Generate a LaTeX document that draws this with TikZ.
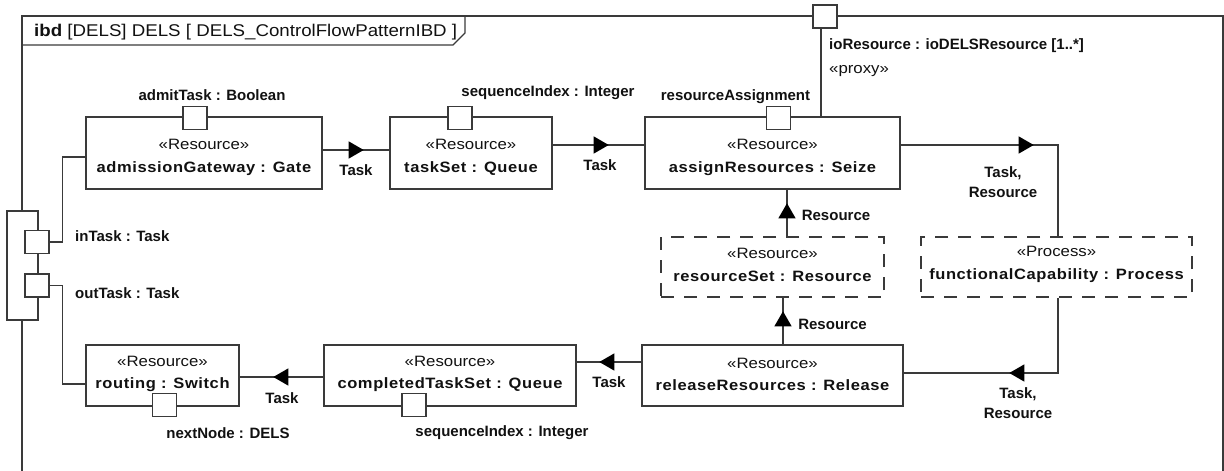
\documentclass[tikz,border=0pt]{standalone}
\usepackage{fontspec}
\setmainfont{Liberation Sans}
\newfontfamily\stfont[FakeStretch=1.12]{Liberation Sans}
\newfontfamily\nmfont[FakeStretch=1.1,LetterSpace=4]{Liberation Sans}
\newfontfamily\hdfont[FakeStretch=1.1]{Liberation Sans}
\usetikzlibrary{arrows.meta,decorations.markings,calc}
\definecolor{ln}{HTML}{3A3A3A}
\definecolor{tx}{HTML}{111111}
\tikzset{
  blk/.style={draw=ln,line width=1.4pt,fill=white,inner sep=0pt},
  dblk/.style={blk,dash pattern=on 13pt off 10pt},
  btxt/.style={inner sep=0pt,align=center,text=tx,font=\fontsize{15}{23}\selectfont},
  port/.style={draw=ln,line width=1.3pt,fill=white,minimum width=24pt,minimum height=23pt,inner sep=0pt},
  lbl/.style={font=\fontsize{15}{20}\selectfont\bfseries,text=tx,inner sep=0pt},
  conn/.style={draw=ln,line width=1.3pt},
  frm/.style={draw=ln,line width=1.4pt},
  flowat/.style={postaction={decorate,decoration={markings,mark=at position #1 with {\arrow[black]{Triangle[length=15pt,width=17pt]}}}}}
}
\newcommand{\stx}[1]{{\stfont #1}}
\newcommand{\nmx}[1]{{\nmfont\bfseries #1}}
\begin{document}
\begin{tikzpicture}[x=1pt,y=-1pt]
\useasboundingbox (0,0) rectangle (1224,471);
\clip (0,0) rectangle (1224,471);
% frame
\draw[frm] (22,490) -- (22,16) -- (1223,16) -- (1223,490);
\draw[frm] (22,45) -- (453,45) -- (465,33) -- (465,16);
\node[anchor=west,text=tx,inner sep=0pt,font=\fontsize{17}{19}\hdfont] (hd) at (34,32) {\textbf{ibd} [DELS] DELS [ DELS\_ControlFlowPatternIBD ]};
% blocks
\node[blk,minimum width=236pt,minimum height=72pt] (ag) at (204,153) {};
\node[blk,minimum width=162pt,minimum height=72pt] (ts) at (471,153) {};
\node[blk,minimum width=255pt,minimum height=72pt] (ar) at (772.5,153) {};
\node[dblk,minimum width=223pt,minimum height=60pt] (rs) at (772.5,267) {};
\node[dblk,minimum width=271pt,minimum height=60pt] (fc) at (1056.5,267) {};
\node[blk,minimum width=261pt,minimum height=61pt] (rr) at (772.5,375.5) {};
\node[blk,minimum width=252pt,minimum height=61pt] (ct) at (450,375.5) {};
\node[blk,minimum width=153pt,minimum height=61pt] (ro) at (162.5,375.5) {};
% block texts
\node[btxt] (agt) at ($(ag.center)+(0,4)$) {\stx{«Resource»}\\\nmx{admissionGateway : Gate}};
\node[btxt] (tst) at ($(ts.center)+(0,4)$) {\stx{«Resource»}\\\nmx{taskSet : Queue}};
\node[btxt] (art) at ($(ar.center)+(0,4)$) {\stx{«Resource»}\\\nmx{assignResources : Seize}};
\node[btxt] (rst) at ($(rs.center)+(0,-2.5)$) {\stx{«Resource»}\\\nmx{resourceSet : Resource}};
\node[btxt] (fct) at ($(fc.center)+(0,-2.5)$) {\stx{«Process»}\\\nmx{functionalCapability : Process}};
\node[btxt] (rrt) at ($(rr.center)+(0,-1.5)$) {\stx{«Resource»}\\[-1pt]\nmx{releaseResources : Release}};
\node[btxt] (ctt) at ($(ct.center)+(0,-1.5)$) {\stx{«Resource»}\\[-1pt]\nmx{completedTaskSet : Queue}};
\node[btxt] (rot) at ($(ro.center)+(0,-1.5)$) {\stx{«Resource»}\\[-1pt]\nmx{routing : Switch}};
% ports
\node[port] (pag) at (195,118) {};
\node[port] (pts) at (460,118) {};
\node[port] (par) at (778.5,118) {};
\node[port] (pio) at (825,16.5) {};
\node[port] (pro) at (164.5,405) {};
\node[port] (pct) at (414,405) {};
\node[draw=ln,line width=1.3pt,fill=white,minimum width=31pt,minimum height=109pt,inner sep=0pt] (dels) at (22.5,265.5) {};
\node[port] (pin) at (37,242) {};
\node[port] (pout) at (37,285.5) {};
% connectors
\draw[conn,flowat=41pt] (ag.east |- 0,150) -- (ts.west |- 0,150);
\draw[conn,flowat=56pt] (ts.east |- 0,145) -- (ar.west |- 0,145);
\draw[conn,flowat=133pt] (ar.east |- 0,145) -| (fc.north -| 1058,0);
\draw[conn,flowat=33pt] (rs.north -| 787,0) -- (ar.south -| 787,0);
\draw[conn,flowat=33pt] (rr.north -| 783,0) -- (rs.south -| 783,0);
\draw[conn,flowat=124pt] (fc.south -| 1058,0) |- (rr.east |- 0,373);
\draw[conn,flowat=42pt] (rr.west |- 0,362) -- (ct.east |- 0,362);
\draw[conn,flowat=50pt] (ct.west |- 0,377) -- (ro.east |- 0,377);
\draw[conn] (pio.south -| 821,0) -- (ar.north -| 821,0);
\draw[conn] (pin.east) -| ($(ag.west |- 0,157)+(-23,0)$) -- (ag.west |- 0,157);
\draw[conn] (pout.east) -| ($(ro.west |- 0,384)+(-23,0)$) -- (ro.west |- 0,384);
% labels
\node[lbl] (lag) at (212,95) {admitTask : Boolean};
\node[lbl] (lts) at (548,93) {sequenceIndex : Integer};
\node[lbl] (lar) at (735.5,97) {resourceAssignment};
\node[lbl,anchor=west] (lio) at (829,46) {ioResource : ioDELSResource [1..*]};
\node[anchor=west,text=tx,inner sep=0pt,font=\fontsize{15}{18}\stfont] (lpx) at (829,71) {«proxy»};
\node[lbl] (t1) at (356,170) {Task};
\node[lbl] (t2) at (600,165) {Task};
\node[lbl,align=center] (t3) at (1003,182) {Task,\\Resource};
\node[lbl] (r1) at (836,215) {Resource};
\node[lbl] (r2) at (832.5,324) {Resource};
\node[lbl,align=center] (t4) at (1018,403) {Task,\\Resource};
\node[lbl] (t5) at (609,382) {Task};
\node[lbl] (lct) at (502,433) {sequenceIndex : Integer};
\node[lbl] (t6) at (282,398) {Task};
\node[lbl] (lro) at (228,433) {nextNode : DELS};
\node[lbl,anchor=west] (lin) at (75,236) {inTask : Task};
\node[lbl,anchor=west] (lout) at (75,293) {outTask : Task};
\end{tikzpicture}
\end{document}
